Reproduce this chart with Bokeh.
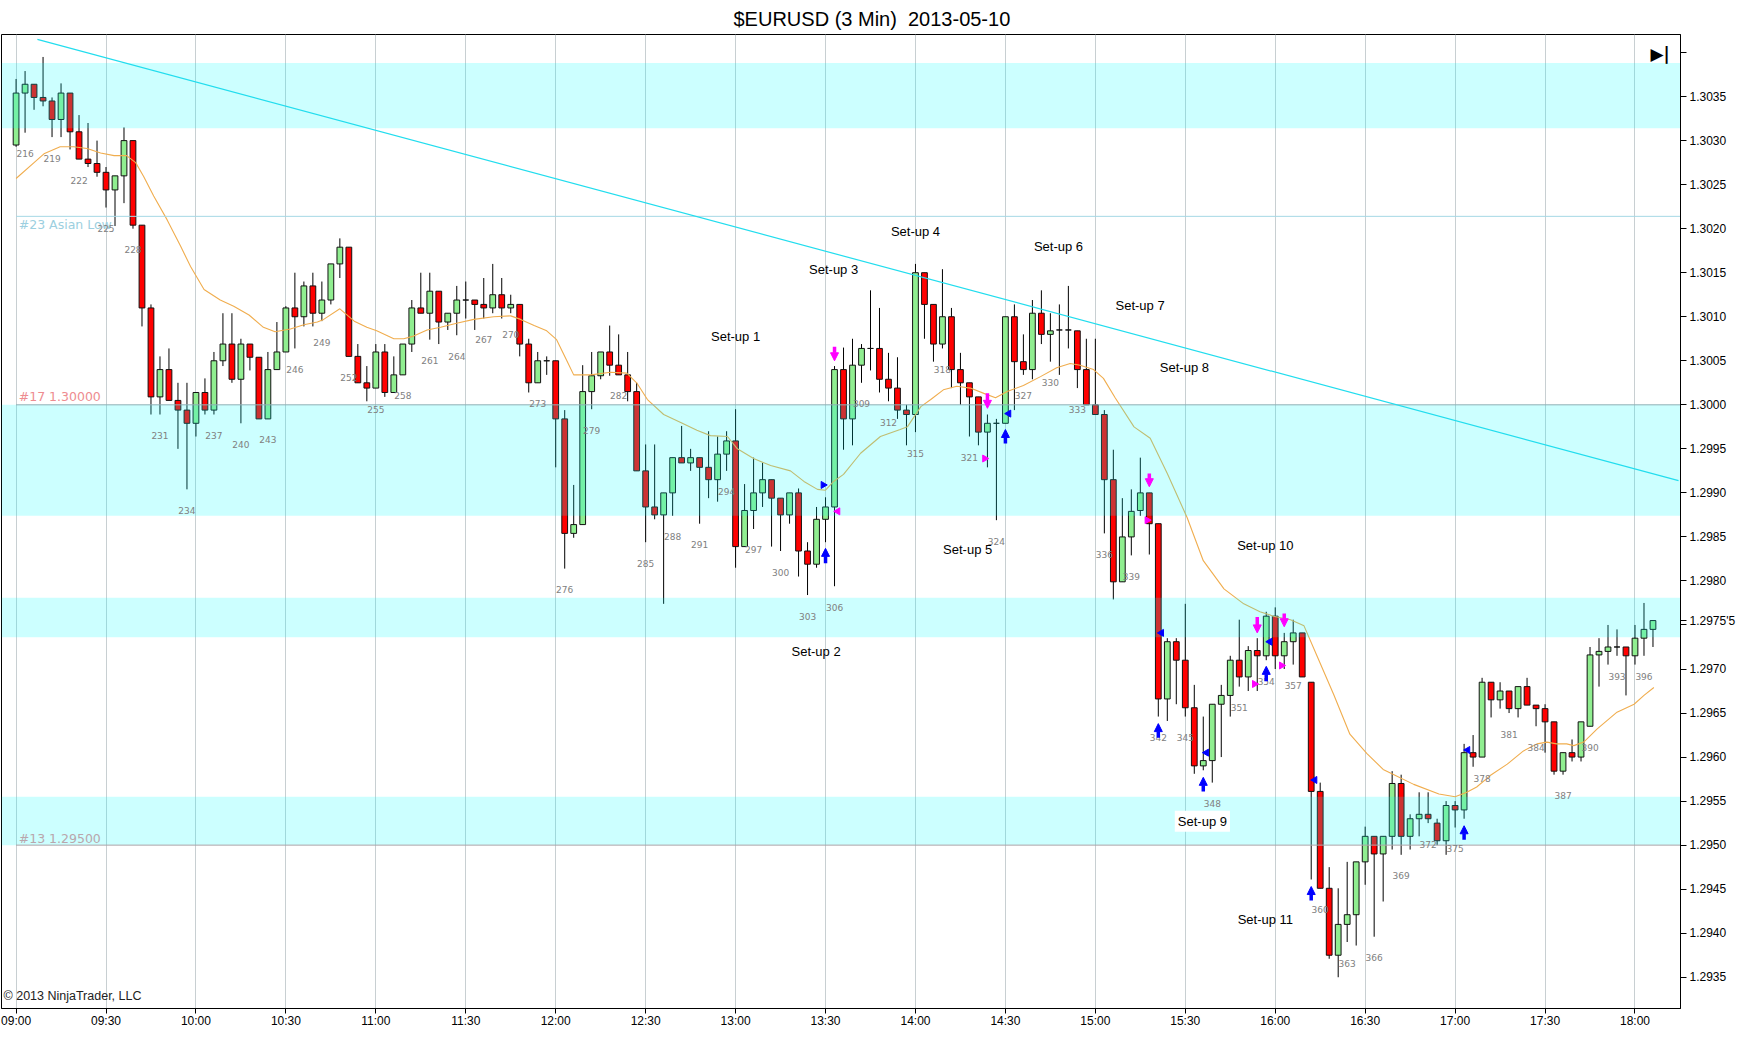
from bokeh.plotting import figure
from bokeh.models import (ColumnDataSource, Range1d, FixedTicker, PrintfTickFormatter,
                          Label, Arrow, NormalHead)
from bokeh.embed import file_html
from bokeh.resources import INLINE
from bokeh.core.properties import value
import math

# ---------------- data ----------------
first_bar = 215
bar_no = list(range(215, 398))
opens = [1.30295,1.30354,1.30364,1.30349,1.30345,1.30324,1.30354,1.30310,1.30279,1.30274,
         1.30264,1.30244,1.30260,1.30300,1.30204,1.30110,1.30009,1.30040,1.30005,1.29994,
         1.29979,1.30014,1.29994,1.30050,1.30069,1.30029,1.30069,1.30054,1.29984,1.30040,
         1.30060,1.30110,1.30100,1.30135,1.30104,1.30119,1.30160,1.30179,1.30055,1.30025,
         1.30019,1.30060,1.30014,1.30034,1.30069,1.30110,1.30104,1.30129,1.30094,1.30104,
         1.30119,1.30119,1.30114,1.30110,1.30125,1.30110,1.30114,1.30069,1.30025,1.30050,
         1.30050,1.29984,1.29854,1.29864,1.30015,1.30033,1.30060,1.30045,1.30034,1.30015,
         1.29925,1.29884,1.29875,1.29900,1.29940,1.29934,1.29940,1.29929,1.29915,1.29944,
         1.29959,1.29839,1.29880,1.29900,1.29915,1.29894,1.29875,1.29900,1.29834,1.29819,
         1.29870,1.29884,1.30040,1.29984,1.30045,1.30064,1.30064,1.30029,1.30019,1.29994,
         1.29989,1.30150,1.30114,1.30069,1.30100,1.30040,1.30025,1.30009,1.29969,1.29979,
         1.29979,1.30100,1.30049,1.30040,1.30104,1.30080,1.30085,1.30085,1.30084,1.30040,
         1.30000,1.29989,1.29915,1.29799,1.29850,1.29880,1.29900,1.29865,1.29666,1.29731,
         1.29710,1.29656,1.29590,1.29596,1.29660,1.29670,1.29710,1.29691,1.29721,1.29715,
         1.29760,1.29715,1.29731,1.29741,1.29685,1.29561,1.29451,1.29375,1.29410,1.29421,
         1.29481,1.29510,1.29490,1.29510,1.29570,1.29510,1.29530,1.29535,1.29525,1.29505,
         1.29545,1.29540,1.29605,1.29600,1.29685,1.29665,1.29675,1.29655,1.29680,1.29659,
         1.29655,1.29640,1.29584,1.29605,1.29600,1.29635,1.29716,1.29720,1.29725,1.29725,
         1.29715,1.29735,1.29745]
highs = [1.30370,1.30379,1.30364,1.30395,1.30349,1.30365,1.30354,1.30329,1.30320,1.30300,
         1.30270,1.30260,1.30315,1.30300,1.30204,1.30114,1.30055,1.30064,1.30025,1.30025,
         1.30014,1.30030,1.30060,1.30104,1.30104,1.30075,1.30069,1.30054,1.30060,1.30094,
         1.30112,1.30150,1.30140,1.30150,1.30140,1.30160,1.30189,1.30179,1.30069,1.30044,
         1.30069,1.30069,1.30055,1.30069,1.30119,1.30150,1.30150,1.30129,1.30104,1.30135,
         1.30140,1.30119,1.30144,1.30160,1.30144,1.30125,1.30114,1.30075,1.30060,1.30055,
         1.30050,1.29994,1.29909,1.30045,1.30060,1.30060,1.30090,1.30080,1.30060,1.30025,
         1.29955,1.29955,1.29900,1.29940,1.29976,1.29950,1.29940,1.29970,1.29964,1.29970,
         1.29995,1.29910,1.29940,1.29934,1.29915,1.29894,1.29900,1.29905,1.29844,1.29884,
         1.29895,1.30044,1.30065,1.30075,1.30069,1.30130,1.30110,1.30059,1.30054,1.30000,
         1.30160,1.30150,1.30114,1.30154,1.30110,1.30059,1.30025,1.30009,1.29989,1.29984,
         1.30100,1.30114,1.30080,1.30119,1.30130,1.30104,1.30114,1.30135,1.30084,1.30075,
         1.30075,1.29994,1.29949,1.29894,1.29904,1.29940,1.29900,1.29865,1.29735,1.29735,
         1.29774,1.29682,1.29646,1.29660,1.29682,1.29715,1.29756,1.29726,1.29735,1.29765,
         1.29770,1.29741,1.29756,1.29741,1.29685,1.29571,1.29475,1.29451,1.29481,1.29481,
         1.29521,1.29510,1.29510,1.29584,1.29580,1.29535,1.29560,1.29560,1.29530,1.29550,
         1.29550,1.29615,1.29625,1.29690,1.29685,1.29685,1.29675,1.29680,1.29690,1.29659,
         1.29660,1.29640,1.29605,1.29620,1.29640,1.29725,1.29735,1.29750,1.29745,1.29725,
         1.29750,1.29775,1.29755]
lows = [1.30293,1.30309,1.30335,1.30339,1.30304,1.30304,1.30290,1.30279,1.30270,1.30259,
        1.30224,1.30203,1.30229,1.30200,1.30089,1.29989,1.29989,1.30005,1.29950,1.29904,
        1.29964,1.29989,1.29989,1.30044,1.30025,1.29979,1.30039,1.29984,1.29984,1.30040,
        1.30060,1.30064,1.30089,1.30089,1.30095,1.30114,1.30144,1.30055,1.30025,1.30004,
        1.30019,1.30009,1.30014,1.30034,1.30060,1.30104,1.30074,1.30069,1.30085,1.30079,
        1.30098,1.30085,1.30098,1.30104,1.30098,1.30104,1.30055,1.30014,1.30025,1.30034,
        1.29929,1.29814,1.29849,1.29864,1.29995,1.30029,1.30033,1.30034,1.30004,1.29925,
        1.29844,1.29870,1.29774,1.29874,1.29934,1.29925,1.29865,1.29894,1.29890,1.29925,
        1.29815,1.29839,1.29859,1.29884,1.29839,1.29834,1.29865,1.29805,1.29784,1.29815,
        1.29844,1.29794,1.29949,1.29954,1.30025,1.30039,1.30014,1.30004,1.29984,1.29954,
        1.29969,1.30075,1.30049,1.30064,1.30019,1.30000,1.29964,1.29954,1.29929,1.29869,
        1.29979,1.29994,1.30034,1.30029,1.30069,1.30049,1.30034,1.30064,1.30019,1.30000,
        1.29989,1.29854,1.29779,1.29799,1.29829,1.29874,1.29830,1.29646,1.29641,1.29660,
        1.29646,1.29581,1.29585,1.29571,1.29600,1.29646,1.29680,1.29675,1.29675,1.29710,
        1.29700,1.29700,1.29705,1.29691,1.29461,1.29451,1.29371,1.29350,1.29390,1.29386,
        1.29455,1.29396,1.29436,1.29495,1.29489,1.29495,1.29510,1.29525,1.29500,1.29489,
        1.29520,1.29530,1.29589,1.29600,1.29645,1.29655,1.29650,1.29645,1.29659,1.29635,
        1.29605,1.29580,1.29580,1.29595,1.29595,1.29635,1.29680,1.29705,1.29715,1.29670,
        1.29705,1.29715,1.29725]
closes = [1.30354,1.30364,1.30349,1.30345,1.30324,1.30354,1.30310,1.30279,1.30274,1.30264,
          1.30244,1.30260,1.30300,1.30204,1.30110,1.30009,1.30040,1.30005,1.29994,1.29979,
          1.30014,1.29994,1.30050,1.30069,1.30029,1.30069,1.30054,1.29984,1.30040,1.30060,
          1.30110,1.30100,1.30135,1.30104,1.30119,1.30160,1.30179,1.30055,1.30025,1.30019,
          1.30060,1.30014,1.30034,1.30069,1.30110,1.30104,1.30129,1.30094,1.30104,1.30119,
          1.30119,1.30114,1.30110,1.30125,1.30110,1.30114,1.30069,1.30025,1.30050,1.30050,
          1.29984,1.29854,1.29864,1.30015,1.30033,1.30060,1.30045,1.30034,1.30015,1.29925,
          1.29884,1.29875,1.29900,1.29940,1.29934,1.29940,1.29929,1.29915,1.29944,1.29959,
          1.29839,1.29880,1.29900,1.29915,1.29894,1.29875,1.29900,1.29834,1.29819,1.29870,
          1.29884,1.30040,1.29984,1.30045,1.30064,1.30064,1.30029,1.30019,1.29994,1.29989,
          1.30150,1.30114,1.30069,1.30100,1.30040,1.30025,1.30009,1.29969,1.29979,1.29979,
          1.30100,1.30049,1.30040,1.30104,1.30080,1.30084,1.30085,1.30085,1.30040,1.30000,
          1.29989,1.29915,1.29799,1.29850,1.29879,1.29900,1.29865,1.29666,1.29731,1.29710,
          1.29656,1.29590,1.29596,1.29660,1.29670,1.29710,1.29691,1.29721,1.29715,1.29760,
          1.29715,1.29731,1.29741,1.29691,1.29561,1.29451,1.29375,1.29410,1.29421,1.29481,
          1.29510,1.29490,1.29510,1.29570,1.29510,1.29530,1.29535,1.29530,1.29505,1.29545,
          1.29540,1.29605,1.29600,1.29685,1.29665,1.29675,1.29655,1.29680,1.29659,1.29655,
          1.29640,1.29584,1.29605,1.29600,1.29640,1.29716,1.29720,1.29725,1.29725,1.29715,
          1.29735,1.29745,1.29755]

# moving average (bar position, price)
ma_x = [215,217,218.1,219.9,221.4,222.9,224.4,225.9,227.3,228.3,229.2,230.3,231.8,233.3,234.4,
        235.9,237.7,239.2,240.9,242.5,243.8,245.5,247.0,248.5,249.2,251.0,252.6,254.0,255.1,
        257.0,258.1,259.2,260.7,262.2,264.1,265.9,268.1,270.0,271.1,272.6,274.0,275.1,276.2,
        277.0,278.9,281.1,282.9,284.0,285.2,287.0,288.9,290.7,292.2,294.1,295.2,297.0,298.9,
        301.1,302.6,304.1,305.0,305.9,307.0,308.9,311.1,313.3,314.1,315.6,316.7,318.1,319.6,
        321.1,322.6,323.9,325.2,327.0,328.9,330.7,332.2,333.3,334.8,335.9,337.2,339.3,341.1,
        343.0,345.2,347.0,349.3,351.5,353.3,354.8,356.7,358.2,359.6,361.5,363.3,365.2,367.0,
        368.2,370.4,373.2,375.0,376.3,377.4,378.9,380.8,382.6,384.1,385.2,386.3,387.4,388.2,
        389.3,390.8,393.0,394.9,396.0,397.1]
ma_y = [1.30257,1.30275,1.30285,1.30293,1.30293,1.30291,1.30286,1.30283,1.30283,1.30275,
        1.30259,1.30237,1.30210,1.30180,1.30157,1.30131,1.30119,1.30112,1.30102,1.30088,
        1.30083,1.30086,1.30091,1.30094,1.30097,1.30109,1.30095,1.30088,1.30084,1.30075,
        1.30075,1.30078,1.30085,1.30088,1.30093,1.30097,1.30100,1.30101,1.30097,1.30090,
        1.30084,1.30074,1.30051,1.30034,1.30034,1.30037,1.30036,1.30025,1.30006,1.29989,
        1.29980,1.29971,1.29965,1.29964,1.29950,1.29939,1.29931,1.29925,1.29913,1.29904,
        1.29903,1.29913,1.29921,1.29945,1.29964,1.29972,1.29975,1.29998,1.30006,1.30017,
        1.30021,1.30019,1.30013,1.30008,1.30015,1.30022,1.30032,1.30042,1.30047,1.30045,
        1.30040,1.30030,1.30008,1.29975,1.29962,1.29922,1.29872,1.29823,1.29791,1.29774,
        1.29765,1.29760,1.29756,1.29749,1.29716,1.29671,1.29626,1.29604,1.29586,1.29580,
        1.29569,1.29558,1.29555,1.29560,1.29566,1.29579,1.29592,1.29607,1.29615,1.29617,
        1.29615,1.29615,1.29613,1.29617,1.29632,1.29651,1.29660,1.29670,1.29679]

time_labels = ["09:00","09:30","10:00","10:30","11:00","11:30","12:00","12:30","13:00",
               "13:30","14:00","14:30","15:00","15:30","16:00","16:30","17:00","17:30","18:00"]
bars_per_label = 10
price_ticks = [1.2935,1.2940,1.2945,1.2950,1.2955,1.2960,1.2965,1.2970,1.2975,1.2980,1.2985,
               1.2990,1.2995,1.3000,1.3005,1.3010,1.3015,1.3020,1.3025,1.3030,1.3035,1.3040]

band_lo = [1.30314, 1.29874, 1.29736, 1.29500]
band_hi = [1.30388, 1.30000, 1.29781, 1.29555]

level_price = [1.30214, 1.30000, 1.29500]
level_text = ["#23 Asian Low", "#17 1.30000", "#13 1.29500"]
level_text_y = [1.30205, 1.30010, 1.29508]
level_line_color = ["#A6D9E6", "#8FAFB5", "#AFA3A8"]
level_text_color = ["#9CCFE0", "#EE8C90", "#B9A6AC"]

trend_x = [217.37, 399.84]
trend_y = [1.30415, 1.29914]

setup_text = ["Set-up 1","Set-up 2","Set-up 3","Set-up 4","Set-up 5","Set-up 6","Set-up 7",
              "Set-up 8","Set-up 9","Set-up 10","Set-up 11"]
setup_x = [295.0, 303.95, 305.9, 315.0, 320.8, 330.9, 339.97, 344.9, 346.9, 353.9, 353.9]
setup_y = [1.30078, 1.29720, 1.30154, 1.30197, 1.29836, 1.30180, 1.30113, 1.30042,
           1.29527, 1.29840, 1.29415]

dn_x = [306, 323, 341, 353, 356]
dn_tail = [1.30066, 1.30013, 1.29922, 1.29759, 1.29763]
dn_tip = [1.30050, 1.29996, 1.29907, 1.29741, 1.29748]
up_x = [305, 325, 342, 347, 354, 359, 376]
up_tail = [1.29820, 1.29956, 1.29622, 1.29561, 1.29686, 1.29437, 1.29506]
up_tip = [1.29837, 1.29972, 1.29638, 1.29577, 1.29703, 1.29453, 1.29522]

tri_x = [304.74, 306.36, 322.7, 325.37, 340.76, 342.35, 347.35, 352.7, 354.4, 355.7, 359.4, 376.4]
tri_y = [1.29909, 1.29879, 1.29939, 1.29990, 1.29869, 1.29741, 1.29605, 1.29683, 1.29731,
         1.29704, 1.29574, 1.29608]
tri_dir = ["R", "L", "R", "L", "R", "L", "L", "R", "L", "R", "L", "L"]
tri_color = ["#0000FF", "#FF00FF", "#FF00FF", "#0000FF", "#FF00FF", "#0000FF", "#0000FF",
             "#FF00FF", "#0000FF", "#FF00FF", "#0000FF", "#0000FF"]

last_price = 1.29755
last_price_text = "1.2975'5"

# ---------------- figure ----------------
x_lo, x_hi = 213.38, 400.06
y_lo, y_hi = 1.293145, 1.304205

p = figure(width=1752, height=1064, x_range=Range1d(x_lo, x_hi), y_range=Range1d(y_lo, y_hi),
           y_axis_location="right", output_backend="svg", toolbar_location=None,
           title="$EURUSD (3 Min)\u00a0 2013-05-10",
           min_border_left=1, min_border_right=72, min_border_top=34, min_border_bottom=56)
p.background_fill_color = "white"
p.border_fill_color = "white"
p.outline_line_color = "black"
p.outline_line_alpha = 1.0

p.title.text_font = "Liberation Sans"
p.title.text_font_size = "20px"
p.title.text_font_style = "normal"
p.title.text_color = "black"
p.title.align = "left"
p.title.vertical_align = "top"
p.title.offset = 732
p.title.standoff = 6

time_ticks = [first_bar + bars_per_label * i for i in range(len(time_labels))]
p.xaxis.ticker = FixedTicker(ticks=time_ticks)
p.xaxis.major_label_overrides = dict(zip(time_ticks, time_labels))
p.xaxis.major_tick_out = 5
p.xaxis.major_tick_in = 0
p.xaxis.minor_tick_line_color = None
p.xaxis.major_label_standoff = 0
p.xaxis.major_label_text_font = "Liberation Sans"
p.xaxis.major_label_text_font_size = "12px"
p.xaxis.major_label_text_color = "black"
p.xaxis.axis_line_color = "black"

# price axis: the 1.2975 label is covered by the last-price tag in the original
axis_ticks = price_ticks + [last_price]
overrides = {price_ticks[-1]: "", 1.2975: "", last_price: last_price_text}
p.yaxis.ticker = FixedTicker(ticks=axis_ticks)
p.yaxis.formatter = PrintfTickFormatter(format="%.4f")
p.yaxis.major_label_overrides = overrides
p.yaxis.major_tick_out = 6
p.yaxis.major_tick_in = 0
p.yaxis.minor_tick_line_color = None
p.yaxis.major_label_standoff = 3
p.yaxis.major_label_text_font = "Liberation Sans"
p.yaxis.major_label_text_font_size = "12px"
p.yaxis.major_label_text_color = "black"
p.yaxis.axis_line_color = "black"

p.xgrid.grid_line_color = "#C8CFD2"
p.ygrid.grid_line_color = None

# candles
tops = [max(o, c) for o, c in zip(opens, closes)]
bottoms = [min(o, c) for o, c in zip(opens, closes)]
colors = ["#FF0000" if c < o else "#90EE90" for o, c in zip(opens, closes)]
src = ColumnDataSource(dict(x=bar_no, h=highs, l=lows, top=tops, bottom=bottoms, color=colors))
p.segment(x0="x", y0="h", x1="x", y1="l", source=src, line_color="black", line_width=1)
p.vbar(x="x", top="top", bottom="bottom", width=0.64, source=src,
       fill_color="color", line_color="#111111", line_width=1)

# moving average
p.line(ma_x, ma_y, line_color="#F0AD4E", line_width=1.1)

# translucent zones drawn over the bars
p.quad(left=[x_lo] * len(band_lo), right=[x_hi] * len(band_lo), bottom=band_lo, top=band_hi,
       fill_color="#00FFFF", fill_alpha=0.2, line_color=None)

# level lines
p.segment(x0=[first_bar] * len(level_price), x1=[x_hi] * len(level_price),
          y0=level_price, y1=level_price, line_color=level_line_color, line_width=1)
p.text(x=[first_bar + 0.3] * len(level_text), y=level_text_y, text=level_text,
       text_color=level_text_color, text_font=value("DejaVu Sans"), text_font_size="12.5px",
       text_align="left", text_baseline="middle")

# trend line
p.line(trend_x, trend_y, line_color="#22DDEE", line_width=1.2)

# bar numbers every 3 bars
lab_x = bar_no[1::3]
lab_y = lows[1::3]
lab_t = [str(n) for n in lab_x]
p.text(x=lab_x, y=lab_y, text=lab_t, text_align="center", text_baseline="middle", y_offset=21,
       text_font=value("DejaVu Sans"), text_font_size="9px", text_color="#808080")

# signal arrows
dn_src = ColumnDataSource(dict(x=dn_x, y0=dn_tail, y1=dn_tip))
p.add_layout(Arrow(source=dn_src, x_start="x", y_start="y0", x_end="x", y_end="y1",
                   line_color="#FF00FF", line_width=3.5,
                   end=NormalHead(size=8, fill_color="#FF00FF", line_color="#FF00FF", line_width=1)))
up_src = ColumnDataSource(dict(x=up_x, y0=up_tail, y1=up_tip))
p.add_layout(Arrow(source=up_src, x_start="x", y_start="y0", x_end="x", y_end="y1",
                   line_color="#0000FF", line_width=3.5,
                   end=NormalHead(size=8, fill_color="#0000FF", line_color="#0000FF", line_width=1)))

# small triangles
tri_angle = [-math.pi / 2 if d == "R" else math.pi / 2 for d in tri_dir]
p.scatter(tri_x, tri_y, marker="triangle", size=7, angle=tri_angle,
          fill_color=tri_color, line_color=tri_color)

# set-up labels
for i, t in enumerate(setup_text):
    lab = Label(x=setup_x[i], y=setup_y[i], text=t, text_align="center", text_baseline="middle",
                text_font="Liberation Sans", text_font_size="13px", text_color="black")
    if t == "Set-up 9":
        lab.background_fill_color = "white"
        lab.padding = 3
    p.add_layout(lab)

# copyright
p.add_layout(Label(x=x_lo, y=y_lo, x_offset=2, y_offset=6, text="\u00a9 2013 NinjaTrader, LLC",
                   text_font="Liberation Sans", text_font_size="12.5px", text_color="#222222",
                   text_baseline="bottom", text_align="left"))

# play-to-end icon
p.add_layout(Label(x=397.8, y=1.30398, text="\u25B6|", text_font="DejaVu Sans",
                   text_font_size="17px", text_font_style="bold", text_color="black",
                   text_align="center", text_baseline="middle"))

open("out.html", "w").write(file_html(p, INLINE))
